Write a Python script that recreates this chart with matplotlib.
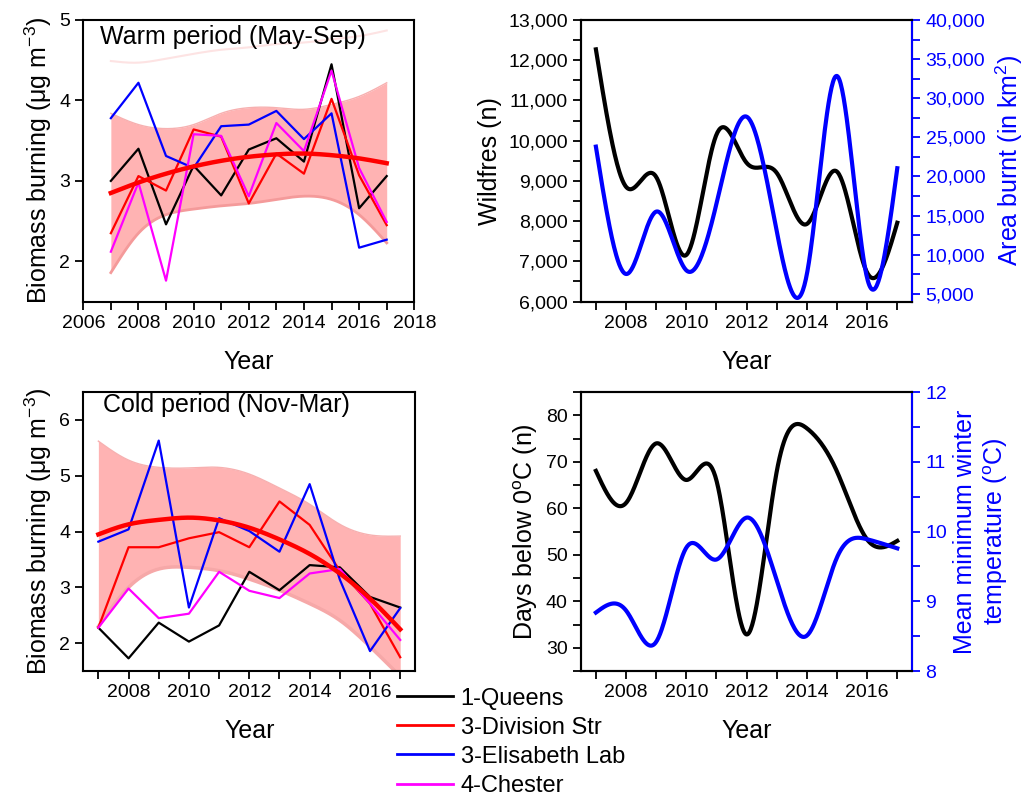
import numpy as np
import matplotlib
matplotlib.use('Agg')
import matplotlib.pyplot as plt
from matplotlib.ticker import MultipleLocator, FuncFormatter
from matplotlib.lines import Line2D

plt.rcParams['font.family'] = ['Liberation Sans', 'DejaVu Sans']
plt.rcParams['mathtext.fontset'] = 'custom'
plt.rcParams['mathtext.rm'] = 'Liberation Sans'
plt.rcParams['mathtext.it'] = 'Liberation Sans'

years = np.arange(2007, 2018)
stations = ['1-Queens', '3-Division Str', '3-Elisabeth Lab', '4-Chester']
station_colors = ['black', 'red', 'blue', 'magenta']

# warm period (May-Sep), ug m-3
warm_queens = [3.00, 3.40, 2.46, 3.19, 2.82, 3.39, 3.53, 3.24, 4.45, 2.66, 3.06]
warm_division = [2.35, 3.06, 2.88, 3.64, 3.55, 2.72, 3.34, 3.09, 4.02, 3.07, 2.45]
warm_elisabeth = [3.78, 4.22, 3.31, 3.16, 3.68, 3.70, 3.87, 3.52, 3.84, 2.17, 2.27]
warm_chester = [2.12, 2.98, 1.76, 3.58, 3.56, 2.81, 3.72, 3.37, 4.37, 3.16, 2.49]
warm_fit = [2.85, 2.98, 3.09, 3.18, 3.25, 3.30, 3.33, 3.34, 3.32, 3.28, 3.22]
warm_lower = [1.86, 2.35, 2.58, 2.65, 2.69, 2.72, 2.77, 2.81, 2.77, 2.58, 2.23]
warm_upper = [3.84, 3.70, 3.65, 3.70, 3.84, 3.91, 3.91, 3.89, 3.95, 4.05, 4.22]
warm_pred_upper = [4.49, 4.47, 4.52, 4.58, 4.63, 4.66, 4.70, 4.72, 4.76, 4.80, 4.87]

# cold period (Nov-Mar)
cold_queens = [2.28, 1.73, 2.37, 2.03, 2.32, 3.28, 2.95, 3.40, 3.36, 2.83, 2.64]
cold_division = [2.28, 3.72, 3.72, 3.88, 3.99, 3.72, 4.54, 4.12, 3.30, 2.71, 1.75]
cold_elisabeth = [3.82, 4.04, 5.63, 2.64, 4.24, 4.01, 3.64, 4.85, 3.14, 1.86, 2.63]
cold_chester = [2.28, 2.98, 2.45, 2.53, 3.28, 2.94, 2.81, 3.25, 3.33, 2.71, 2.06]
cold_fit = [3.95, 4.13, 4.21, 4.25, 4.20, 4.07, 3.86, 3.60, 3.25, 2.80, 2.25]
cold_lower = [2.30, 3.00, 3.33, 3.36, 3.30, 3.15, 2.95, 2.71, 2.41, 1.94, 1.41]
cold_upper = [5.62, 5.28, 5.15, 5.14, 5.15, 5.03, 4.78, 4.49, 4.13, 3.94, 3.92]

wildfires = [12270, 8854, 9100, 7160, 10150, 9450, 9200, 7930, 9230, 6720, 7960]
area_burnt = [23810, 7533, 15500, 8000, 16500, 27640, 13000, 7500, 32840, 7000, 21050]

days_below0 = [68.05, 61.15, 73.95, 66.1, 66.0, 32.9, 67.9, 77.2, 67.9, 53.3, 53.0]
min_winter_temp = [8.84, 8.87, 8.42, 9.77, 9.60, 10.20, 9.30, 8.51, 9.63, 9.89, 9.76]


def smooth(x, y, n=400):
    # natural cubic spline through the yearly points (like Origin's spline line)
    x = np.asarray(x, float)
    y = np.asarray(y, float)
    h = np.diff(x)
    m = len(x)
    A = np.zeros((m, m))
    r = np.zeros(m)
    A[0, 0] = A[-1, -1] = 1
    for i in range(1, m - 1):
        A[i, i - 1] = h[i - 1]
        A[i, i] = 2 * (h[i - 1] + h[i])
        A[i, i + 1] = h[i]
        r[i] = 3 * ((y[i + 1] - y[i]) / h[i] - (y[i] - y[i - 1]) / h[i - 1])
    c = np.linalg.solve(A, r)
    b = (y[1:] - y[:-1]) / h - h * (2 * c[:-1] + c[1:]) / 3
    d = (c[1:] - c[:-1]) / (3 * h)
    xs = np.linspace(x[0], x[-1], n)
    k = np.clip(np.searchsorted(x, xs) - 1, 0, m - 2)
    t = xs - x[k]
    ys = y[k] + b[k] * t + c[k] * t ** 2 + d[k] * t ** 3
    return xs, ys


def style(ax):
    for s in ax.spines.values():
        s.set_linewidth(1.5)
    ax.tick_params(which='major', direction='out', length=6, width=1.3, labelsize=14)
    ax.tick_params(which='minor', direction='out', length=6, width=1.3)


fig = plt.figure(figsize=(10.28, 8), dpi=100)
ax1 = fig.add_axes([0.081, 0.623, 0.322, 0.352])
ax2 = fig.add_axes([0.081, 0.161, 0.323, 0.349])
ax3 = fig.add_axes([0.565, 0.623, 0.3225, 0.352])
ax4 = fig.add_axes([0.565, 0.161, 0.3225, 0.349])

band_col = '#ffb3b3'

# warm period
xs, lo = smooth(years, warm_lower)
_, hi = smooth(years, warm_upper)
ax1.fill_between(xs, lo, hi, color=band_col, lw=0)
ax1.plot(xs, lo, color='#f49a9a', lw=2)
ax1.plot(xs, hi, color='#f7b0b0', lw=1)
ax1.plot(*smooth(years, warm_pred_upper), color='#fde3e3', lw=1.5)
for vals, col in zip([warm_queens, warm_division, warm_elisabeth, warm_chester], station_colors):
    ax1.plot(years, vals, color=col, lw=1.6)
ax1.plot(*smooth(years, warm_fit), color='red', lw=3.2)
ax1.set_xlim(2006, 2018)
ax1.set_ylim(1.5, 5)
ax1.xaxis.set_major_locator(MultipleLocator(2))
ax1.xaxis.set_minor_locator(MultipleLocator(1))
ax1.yaxis.set_major_locator(MultipleLocator(1))
ax1.set_xlabel('Year', fontsize=18, labelpad=13)
ax1.set_ylabel('Biomass burning (\u03bcg m$^{-3}$)', fontsize=18)
ax1.text(0.051, 0.94, 'Warm period (May-Sep)', transform=ax1.transAxes,
         fontsize=18, va='center', ha='left')
style(ax1)

# cold period
xs, lo = smooth(years, cold_lower)
_, hi = smooth(years, cold_upper)
ax2.fill_between(xs, lo, hi, color=band_col, lw=0)
ax2.plot(xs, lo, color='#f6a8a8', lw=2.5)
ax2.plot(xs, hi, color='#f7b0b0', lw=1)
for vals, col in zip([cold_queens, cold_division, cold_elisabeth, cold_chester], station_colors):
    ax2.plot(years, vals, color=col, lw=1.6)
ax2.plot(*smooth(years, cold_fit), color='red', lw=3.2)
ax2.set_xlim(2006.5, 2017.5)
ax2.set_ylim(1.5, 6.5)
ax2.xaxis.set_major_locator(MultipleLocator(2))
ax2.xaxis.set_minor_locator(MultipleLocator(1))
ax2.yaxis.set_major_locator(MultipleLocator(1))
ax2.set_xlabel('Year', fontsize=18, labelpad=13)
ax2.set_ylabel('Biomass burning (\u03bcg m$^{-3}$)', fontsize=18)
ax2.text(0.06, 0.953, 'Cold period (Nov-Mar)', transform=ax2.transAxes,
         fontsize=18, va='center', ha='left')
style(ax2)

thousands = FuncFormatter(lambda v, p: f'{int(v):,}')

# wildfires / area burnt
ax3.plot(*smooth(years, wildfires), color='black', lw=3)
ax3.set_xlim(2006.5, 2017.5)
ax3.set_ylim(6000, 13000)
ax3.xaxis.set_major_locator(MultipleLocator(2))
ax3.xaxis.set_minor_locator(MultipleLocator(1))
ax3.yaxis.set_major_locator(MultipleLocator(1000))
ax3.yaxis.set_minor_locator(MultipleLocator(500))
ax3.yaxis.set_major_formatter(thousands)
ax3.set_xlabel('Year', fontsize=18, labelpad=13)
ax3.set_ylabel('Wildfres (n)', fontsize=18)
style(ax3)
ax3r = ax3.twinx()
ax3r.plot(*smooth(years, area_burnt), color='blue', lw=3)
ax3r.set_ylim(4000, 40000)
ax3r.yaxis.set_major_locator(MultipleLocator(5000))
ax3r.yaxis.set_minor_locator(MultipleLocator(2500))
ax3r.yaxis.set_major_formatter(thousands)
ax3r.set_ylabel('Area burnt (in km$^2$)', fontsize=18, color='blue', labelpad=6)
style(ax3r)
ax3r.tick_params(axis='y', which='both', colors='blue')
ax3r.spines['right'].set_color('blue')

# days below zero / winter temperature
ax4.plot(*smooth(years, days_below0), color='black', lw=3)
ax4.set_xlim(2006.5, 2017.5)
ax4.set_ylim(25, 85)
ax4.xaxis.set_major_locator(MultipleLocator(2))
ax4.xaxis.set_minor_locator(MultipleLocator(1))
ax4.yaxis.set_major_locator(MultipleLocator(10))
ax4.yaxis.set_minor_locator(MultipleLocator(5))
ax4.set_xlabel('Year', fontsize=18, labelpad=13)
ax4.set_ylabel('Days below 0$^{o}$C (n)', fontsize=18)
style(ax4)
ax4r = ax4.twinx()
ax4r.plot(*smooth(years, min_winter_temp), color='blue', lw=3)
ax4r.set_ylim(8, 12)
ax4r.yaxis.set_major_locator(MultipleLocator(1))
ax4r.yaxis.set_minor_locator(MultipleLocator(0.5))
ax4r.set_ylabel('Mean minimum winter\ntemperature ($^{o}$C)', fontsize=18, color='blue')
style(ax4r)
ax4r.tick_params(axis='y', which='both', colors='blue')
ax4r.spines['right'].set_color('blue')

handles = [Line2D([], [], color=c, lw=2) for c in station_colors]
fig.legend(handles, stations, loc='lower left', bbox_to_anchor=(0.386, 0.004),
           frameon=False, fontsize=17, handlelength=2.4, handletextpad=0.3,
           labelspacing=0.3, borderpad=0, borderaxespad=0)

fig.savefig('out.png', dpi=100)
